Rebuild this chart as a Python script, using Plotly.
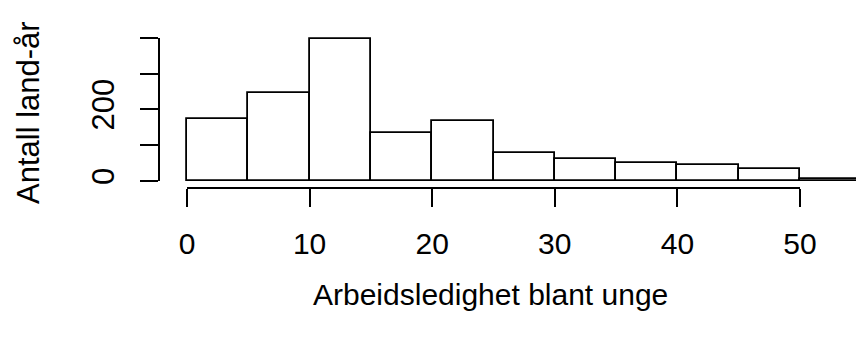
import plotly.graph_objects as go

# Histogram of youth unemployment (country-years), 5-point bins
bin_left = [0, 5, 10, 15, 20, 25, 30, 35, 40, 45, 50]
bin_width = 5
counts = [173, 246, 396, 133, 167, 78, 61, 50, 44, 33, 5]

x_ticks = [0, 10, 20, 30, 40, 50]
x_ticklabels = ["0", "10", "20", "30", "40", "50"]
y_ticks = [0, 100, 200, 300, 400]
y_ticklabels = ["0", "", "200", "", ""]

x_title = "Arbeidsledighet blant unge"
y_title = "Antall land-år"

W, H = 856, 340
FONT = "Liberation Sans, Arial, sans-serif"
FS = 30

# pixel geometry of the plotting region
px_x0, px_x50 = 187.0, 800.0      # x = 0 and x = 50
py_y0, py_y400 = 181.0, 37.7      # y = 0 and y = 400
sx = (px_x50 - px_x0) / 50.0
sy = (py_y0 - py_y400) / 400.0

x_range = [(0 - px_x0) / sx, (W - px_x0) / sx]
y_range = [(py_y0 - H) / sy, (py_y0 - 0) / sy]

fig = go.Figure()

fig.add_trace(go.Bar(
    x=bin_left, y=counts, width=bin_width, offset=0,
    marker=dict(color="white", line=dict(color="black", width=1.8)),
    xaxis="x", yaxis="y", showlegend=False, hoverinfo="skip",
))

# empty trace carrying the R-style detached axes
fig.add_trace(go.Scatter(x=[], y=[], xaxis="x2", yaxis="y2",
                         showlegend=False, hoverinfo="skip"))

fig.update_layout(
    width=W, height=H, autosize=False,
    margin=dict(l=0, r=0, t=0, b=0, pad=0),
    paper_bgcolor="white", plot_bgcolor="rgba(0,0,0,0)",
    font=dict(family=FONT, size=FS, color="black"),
    bargap=0,
    xaxis=dict(domain=[0, 1], range=x_range, visible=False, fixedrange=True),
    yaxis=dict(domain=[0, 1], range=y_range, visible=False, fixedrange=True),
    xaxis2=dict(
        domain=[px_x0 / W, px_x50 / W], range=[0, 50],
        anchor="free", position=1 - 187.7 / H,
        showline=True, linecolor="black", linewidth=1.8,
        ticks="outside", ticklen=18, tickwidth=1.8, tickcolor="black",
        tickvals=x_ticks, ticktext=x_ticklabels, ticklabelstandoff=11,
        showgrid=False, zeroline=False, automargin=False,
        tickfont=dict(family=FONT, size=FS, color="black"),
    ),
    yaxis2=dict(
        domain=[1 - py_y0 / H, 1 - py_y400 / H], range=[0, 400],
        anchor="free", position=159.0 / W, side="left",
        showline=True, linecolor="black", linewidth=1.8,
        ticks="outside", ticklen=18, tickwidth=1.8, tickcolor="black",
        tickvals=y_ticks, ticktext=y_ticklabels, tickangle=-90,
        ticklabelstandoff=14,
        showgrid=False, zeroline=False, automargin=False,
        tickfont=dict(family=FONT, size=31, color="black"),
    ),
    annotations=[
        dict(text=x_title, xref="paper", yref="paper",
             x=490 / W, y=1 - 294 / H, xanchor="center", yanchor="middle",
             showarrow=False, font=dict(family=FONT, size=FS, color="black")),
        dict(text=y_title, xref="paper", yref="paper",
             x=29 / W, y=1 - 113 / H, xanchor="center", yanchor="middle",
             textangle=-90, showarrow=False,
             font=dict(family=FONT, size=31, color="black")),
    ],
)

fig.write_html("out.html")
